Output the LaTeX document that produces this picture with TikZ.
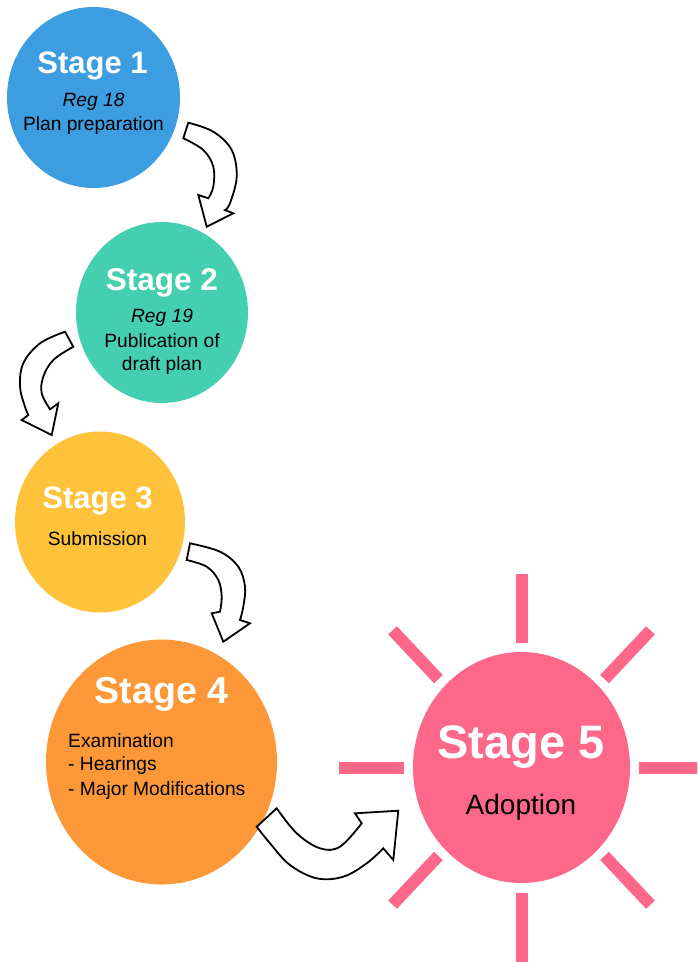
\documentclass[tikz,border=0pt]{standalone}
\usepackage{fontspec}
\setmainfont{Liberation Sans}
\usetikzlibrary{shapes.geometric}
\definecolor{cblue}{HTML}{3C9DE1}
\definecolor{cteal}{HTML}{43CFB0}
\definecolor{cyellow}{HTML}{FEC33B}
\definecolor{corange}{HTML}{FD9838}
\definecolor{cpink}{HTML}{FD6789}
\begin{document}
\begin{tikzpicture}[x=1pt,y=-1pt,
  stagecirc/.style={ellipse,inner sep=0pt,draw=none},
  stitle/.style={text=white,anchor=base,inner sep=0pt},
  sub/.style={text=black,anchor=base,inner sep=0pt,font=\fontsize{19.2}{21}\selectfont},
  blockarrow/.style={draw=black,fill=white,line width=1.8pt,line join=miter},
  ray/.style={cpink,line width=12pt,line cap=butt}]
\useasboundingbox (0,0) rectangle (697,962);
\clip (0,0) rectangle (697,962);
\fill[white] (0,0) rectangle (697,962);

% circles (slightly squeezed horizontally, as in the reference)
\node (s1) [stagecirc,fill=cblue,minimum width=173pt,minimum height=181pt] at (93.5,97.5) {};
\node (s2) [stagecirc,fill=cteal,minimum width=172pt,minimum height=181pt] at (162,312.5) {};
\node (s3) [stagecirc,fill=cyellow,minimum width=170pt,minimum height=181pt] at (100,522) {};
\node (s4) [stagecirc,fill=corange,minimum width=231pt,minimum height=245pt] at (161.5,762) {};
\node (s5) [stagecirc,fill=cpink,minimum width=217pt,minimum height=231pt] at (521.5,767.5) {};

% rays
\begin{scope}[shift={(s5.center)},xscale=0.94]
\foreach \a in {0,45,...,315}
  \draw[ray] (\a:125) -- (\a:194);
\end{scope}

% texts
\node (t1) [stitle,font=\bfseries\fontsize{31}{31}\selectfont] at (92.5,73) {Stage 1};
\node (r1) [sub] at (93.5,106) {\itshape Reg 18};
\node (p1) [sub] at (93.5,130) {Plan preparation};

\node (t2) [stitle,font=\bfseries\fontsize{31.5}{32}\selectfont] at (162,290) {Stage 2};
\node (r2) [sub] at (162,322) {\itshape Reg 19};
\node (p2) [sub] at (162,347) {Publication of};
\node (q2) [sub] at (162,370) {draft plan};

\node (t3) [stitle,font=\bfseries\fontsize{31}{31}\selectfont] at (97.5,508) {Stage 3};
\node (p3) [sub] at (97.5,545) {Submission};

\node (t4) [stitle,font=\bfseries\fontsize{37.5}{38}\selectfont] at (161.5,703) {Stage 4};
\node (p4) [sub,anchor=base west] at (68,747) {Examination};
\node (q4) [sub,anchor=base west] at (68,770) {- Hearings};
\node (u4) [sub,anchor=base west] at (68,795) {- Major Modifications};

\node (t5) [stitle,font=\bfseries\fontsize{47}{47}\selectfont] at (521,758) {Stage 5};
\node (p5) [sub,font=\fontsize{28}{29}\selectfont] at (521,814) {Adoption};

% block arrows
\draw[blockarrow] plot[smooth,tension=0.6] coordinates {(188.3,122.7) (213.3,131.7) (231.7,150) (236.7,176.7) (230,203.3) (225,210)}
  -- (233.3,213.3) -- (206.7,226.7) -- (198.3,195)
  -- plot[smooth,tension=0.6] coordinates {(208.3,198.3) (213.3,186.7) (213.3,166.7) (203.3,150) (183.3,138.3)} -- cycle;

\draw[blockarrow] plot[smooth,tension=0.6] coordinates {(65,331.7) (40,343.3) (23.3,363.3) (20,386.7) (25,406.7) (28.3,415)}
  -- (21.7,420) -- (51.7,435) -- (58.3,403.3)
  -- plot[smooth,tension=0.6] coordinates {(50,409.3) (41.7,393.3) (43.3,376.7) (53.3,360) (73.3,346.7)} -- cycle;

\draw[blockarrow] plot[smooth,tension=0.6] coordinates {(190,543.3) (220,551.7) (238.3,566.7) (245,586.7) (243.3,606.7) (240,620)}
  -- (250,623.3) -- (223.3,641.7) -- (211.7,613.3)
  -- plot[smooth,tension=0.6] coordinates {(220,611.7) (221.7,596.7) (218.3,580) (206.7,566.7) (186.7,560)} -- cycle;

\draw[blockarrow] plot[smooth,tension=0.6] coordinates {(276.7,808.3) (296.7,833.3) (320,848.3) (340,846.7) (361.7,823.3)}
  -- (355,813.3) -- (398.3,810.7) -- (393.3,860)
  -- plot[smooth,tension=0.6] coordinates {(383.3,848.3) (366.7,863.3) (343.3,876.7) (316.7,878.3) (290,865) (270,843.3) (256.7,826.7)} -- cycle;
\end{tikzpicture}
\end{document}
